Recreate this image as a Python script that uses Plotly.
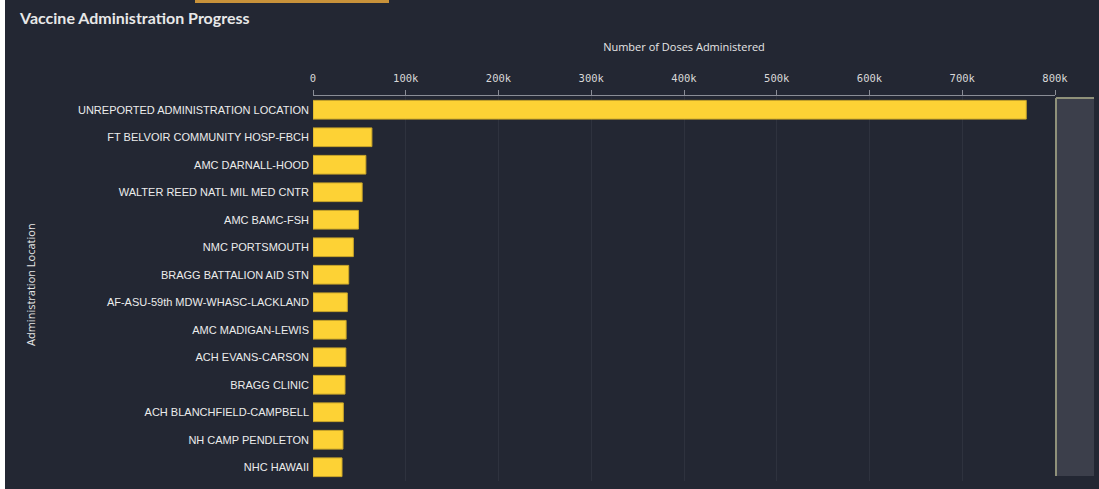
import plotly.graph_objects as go

locations = [
    "UNREPORTED ADMINISTRATION LOCATION",
    "FT BELVOIR COMMUNITY HOSP-FBCH",
    "AMC DARNALL-HOOD",
    "WALTER REED NATL MIL MED CNTR",
    "AMC BAMC-FSH",
    "NMC PORTSMOUTH",
    "BRAGG BATTALION AID STN",
    "AF-ASU-59th MDW-WHASC-LACKLAND",
    "AMC MADIGAN-LEWIS",
    "ACH EVANS-CARSON",
    "BRAGG CLINIC",
    "ACH BLANCHFIELD-CAMPBELL",
    "NH CAMP PENDLETON",
    "NHC HAWAII",
]
doses = [769000, 63500, 57000, 53000, 49000, 43500, 38500, 37000, 35700, 35400, 34500, 32700, 32300, 31300]

tick_vals = [0, 100000, 200000, 300000, 400000, 500000, 600000, 700000, 800000]
tick_text = ["0", "100k", "200k", "300k", "400k", "500k", "600k", "700k", "800k"]

BG = "#232733"
W, H = 1094, 489
L, R, T, B = 308, 44, 96, 8
pw = W - L - R
ph = H - T - B


def px(x):
    return (x - L) / pw


def py(y):
    return (H - B - y) / ph


fig = go.Figure(go.Bar(
    x=doses, y=locations, orientation="h",
    marker=dict(color="#fdd235", line=dict(color="#c9a52a", width=1)),
    hoverinfo="x+y",
))

fig.update_layout(
    width=W, height=H,
    paper_bgcolor=BG, plot_bgcolor=BG,
    margin=dict(l=L, r=R, t=T, b=B),
    bargap=0.32,
    showlegend=False,
    font=dict(family="Liberation Sans", color="#e6e6e6", size=10),
    xaxis=dict(
        side="top", range=[0, 800000],
        tickvals=tick_vals, ticktext=tick_text,
        tickfont=dict(family="DejaVu Sans Mono", size=10.5, color="#d8d8d8"),
        ticks="outside", ticklen=5, tickcolor="#8a8d96",
        ticklabelstandoff=4,
        showline=True, linecolor="#8a8d96", linewidth=1,
        showgrid=True, gridcolor="#2e323e", gridwidth=1,
        zeroline=False,
        title=dict(text="Number of Doses Administered",
                   font=dict(family="Open Sans", size=11, color="#e6e6e6"),
                   standoff=17),
    ),
    yaxis=dict(
        autorange="reversed",
        tickfont=dict(family="Liberation Sans", size=11, color="#ececec"),
        ticks="", showgrid=False, zeroline=False, showline=False,
        ticklabelstandoff=3,
    ),
    annotations=[
        dict(text="Vaccine Administration Progress", xref="paper", yref="paper",
             x=px(12), y=py(17), xanchor="left", yanchor="middle",
             showarrow=False, font=dict(family="Lato", size=16, color="#e8e8e8", weight="bold")),
        dict(text="Administration Location", xref="paper", yref="paper",
             x=px(25), y=py(285), xanchor="center", yanchor="middle",
             textangle=-90, showarrow=False,
             font=dict(family="Open Sans", size=11, color="#e6e6e6")),
    ],
    shapes=[
        dict(type="rect", xref="paper", yref="paper",
             x0=px(1051), x1=px(1089), y0=py(476), y1=py(98),
             fillcolor="#3c3f4b", line=dict(width=0), layer="above"),
        dict(type="line", xref="paper", yref="paper",
             x0=px(1051), x1=px(1051), y0=py(476), y1=py(98),
             line=dict(color="#8f917a", width=2)),
        dict(type="line", xref="paper", yref="paper",
             x0=px(1051), x1=px(1089), y0=py(98), y1=py(98),
             line=dict(color="#8f917a", width=2)),
        dict(type="line", xref="paper", yref="paper",
             x0=px(190), x1=px(384), y0=py(1.5), y1=py(1.5),
             line=dict(color="#c8923a", width=3)),
    ],
)

fig.write_html(
    "out.html",
    post_script="document.body.style.margin='0 0 0 5px';document.body.style.overflow='hidden';",
)
